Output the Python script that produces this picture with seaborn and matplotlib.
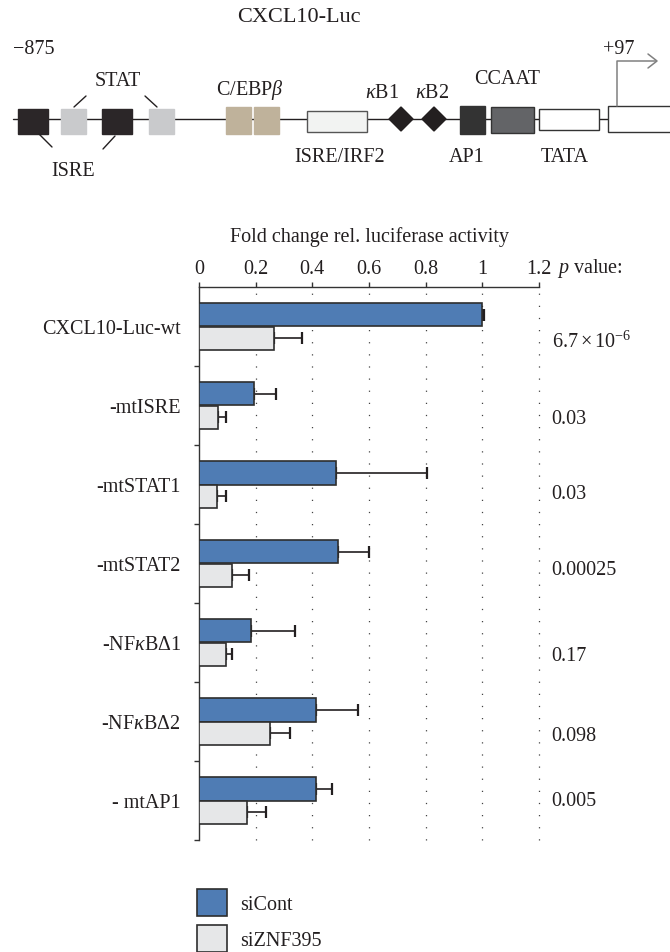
import numpy as np
import pandas as pd
import matplotlib
matplotlib.use("Agg")
import matplotlib.pyplot as plt
from matplotlib.patches import Rectangle, Polygon
import seaborn as sns

# ---- data -------------------------------------------------------------
constructs = ["CXCL10-Luc-wt", "-mtISRE", "-mtSTAT1", "-mtSTAT2",
              "-NF$\\mathit{\\kappa}$B\u03941", "-NF$\\mathit{\\kappa}$B\u03942", "- mtAP1"]
conditions = ["siCont", "siZNF395"]
sicont_mean = [1.00, 0.195, 0.484, 0.492, 0.182, 0.414, 0.414]
sicont_err = [0.005, 0.075, 0.32, 0.107, 0.157, 0.147, 0.055]
siznf_mean = [0.265, 0.066, 0.062, 0.118, 0.094, 0.252, 0.169]
siznf_err = [0.10, 0.03, 0.035, 0.058, 0.021, 0.068, 0.069]
p_values = ["$6.7\\times10^{-6}$", "0.03", "0.03", "0.00025", "0.17", "0.098", "0.005"]
x_ticks = [0, 0.2, 0.4, 0.6, 0.8, 1.0, 1.2]
x_tick_labels = ["0", "0.2", "0.4", "0.6", "0.8", "1", "1.2"]

# ---- style ------------------------------------------------------------
sns.set_style("white")
plt.rcParams["font.family"] = ["Liberation Serif", "DejaVu Serif"]
plt.rcParams["mathtext.fontset"] = "custom"
plt.rcParams["mathtext.rm"] = "Liberation Serif"
plt.rcParams["mathtext.it"] = "Liberation Serif:italic"
plt.rcParams["mathtext.bf"] = "Liberation Serif:bold"
TXT = "#231f20"
FS = 14.5
plt.rcParams["text.color"] = TXT

W, H = 670, 953
fig = plt.figure(figsize=(W / 100, H / 100), dpi=100)

# ---- promoter schematic -----------------------------------------------
dax = fig.add_axes([0, 1 - 200 / H, 1, 200 / H])
dax.set_xlim(0, W)
dax.set_ylim(200, 0)
dax.axis("off")

dax.plot([13, W], [120, 120], color=TXT, lw=1.0, zorder=1)

boxes = [
    # x0, x1, y0, y1, face, edge
    (18, 48, 110, 135, "#2b2628", "#2b2628"),
    (102, 132, 110, 135, "#2b2628", "#2b2628"),
    (61, 86, 110, 135, "#c9cacc", "#c9cacc"),
    (149, 174, 110, 135, "#c9cacc", "#c9cacc"),
    (226, 251, 108, 135, "#bfb29b", "#bfb29b"),
    (254, 279, 108, 135, "#bfb29b", "#bfb29b"),
    (307, 367, 112, 133, "#f2f3f2", "#555555"),
    (460, 485, 107, 135, "#333333", "#333333"),
    (491, 534, 108, 134, "#636467", "#333333"),
    (539, 599, 110, 131, "white", "#333333"),
    (608, 675, 107, 133, "white", "#333333"),
]
for x0, x1, y0, y1, fc, ec in boxes:
    dax.add_patch(Rectangle((x0, y0), x1 - x0, y1 - y0, facecolor=fc,
                            edgecolor=ec, lw=1.0, zorder=2))

for cx in (401, 434):
    dax.add_patch(Polygon([(cx - 12, 120), (cx, 108), (cx + 12, 120), (cx, 132)],
                          closed=True, facecolor="#231f20", edgecolor="#231f20", zorder=2))

for (xa, ya), (xb, yb) in [((86, 97), (74, 108)), ((145, 97), (157, 108)),
                           ((39, 135), (52, 148)), ((115, 137), (103, 150))]:
    dax.plot([xa, xb], [ya, yb], color=TXT, lw=1.0)

# transcription start arrow
dax.plot([617, 617, 656], [107, 62, 62], color="#808080", lw=1.1)
dax.plot([648, 657, 648], [55, 62, 69], color="#808080", lw=1.1)

dax.text(299, 17, "CXCL10-Luc", ha="center", va="center", fontsize=16, color=TXT)
labels = [
    ("\u2212875", 34, 50), ("+97", 619, 49),
    ("STAT", 118, 82), ("ISRE", 73, 171), ("C/EBP$\\mathit{\\beta}$", 250, 90),
    ("ISRE/IRF2", 340, 157), ("$\\mathit{\\kappa}$B1", 382, 94),
    ("$\\mathit{\\kappa}$B2", 432, 94), ("CCAAT", 507, 80),
    ("AP1", 467, 158), ("TATA", 565, 157),
]
for s, x, y in labels:
    dax.text(x, y, s, ha="center", va="center", fontsize=FS, color=TXT)

# ---- bar chart --------------------------------------------------------
df = pd.DataFrame({
    "construct": constructs * 2,
    "condition": [conditions[0]] * len(constructs) + [conditions[1]] * len(constructs),
    "value": sicont_mean + siznf_mean,
})
errs = {conditions[0]: sicont_err, conditions[1]: siznf_err}

ax = fig.add_axes([199 / W, 1 - 841 / H, 340 / W, 553 / H])
sns.barplot(data=df, x="value", y="construct", hue="condition", orient="h",
            order=constructs, hue_order=conditions,
            palette={"siCont": "#4f7cb4", "siZNF395": "#e6e7e8"},
            saturation=1, width=0.6, errorbar=None,
            edgecolor="#2e2e2e", linewidth=1.2, ax=ax, zorder=3)

for cond, cont in zip(conditions, ax.containers):
    ys = [b.get_y() + b.get_height() / 2 for b in cont]
    xs = [b.get_width() for b in cont]
    e = errs[cond]
    ax.errorbar(xs, ys, xerr=[np.zeros(len(e)), e], fmt="none",
                ecolor=TXT, elinewidth=1.2, capsize=4, capthick=1.6, zorder=2)

handles, leg_labels = ax.get_legend_handles_labels()
ax.get_legend().remove()

ax.set_xlim(0, 1.2)
ax.set_ylim(len(constructs) - 0.5, -0.5)
ax.xaxis.tick_top()
ax.xaxis.set_label_position("top")
ax.set_xticks(x_ticks)
ax.set_xticklabels(x_tick_labels)
ax.set_xlabel("Fold change rel. luciferase activity", fontsize=FS, labelpad=13, color=TXT)
ax.set_ylabel("")
ax.set_yticks(range(len(constructs)))
ax.set_yticklabels(constructs)
ax.set_yticks(np.arange(len(constructs)) + 0.5, minor=True)

for sp in ("right", "bottom"):
    ax.spines[sp].set_visible(False)
for sp in ("top", "left"):
    ax.spines[sp].set_color("#333333")
    ax.spines[sp].set_linewidth(1.0)

ax.tick_params(axis="x", which="major", direction="out", length=3.6, width=1.0,
               color="#333333", labelsize=FS, labelcolor=TXT, pad=3, top=True, bottom=False)
ax.tick_params(axis="y", which="major", length=0, labelsize=FS, labelcolor=TXT, pad=13)
ax.tick_params(axis="y", which="minor", direction="out", length=3.6, width=1.0,
               color="#333333", left=True)

for xv in x_ticks[1:]:
    ax.axvline(xv, color="#444444", lw=0.9, linestyle=(0, (1, 8.7)), zorder=1, clip_on=False)

pv_offsets = [0.18, 0.17, 0.12, 0.08, 0.17, 0.18, 0.0]
for i, (pv, off) in enumerate(zip(p_values, pv_offsets)):
    ax.text(1.245, i + off, pv, ha="left", va="center", fontsize=FS, color=TXT, clip_on=False)

ax.text(1.265, 1 + 19 / 553, "$p$ value:", transform=ax.get_xaxis_transform(),
        ha="left", va="center", fontsize=FS, color=TXT, clip_on=False)

fig.legend(handles, leg_labels, loc="upper left", bbox_to_anchor=(197 / W, 1 - 890 / H),
           frameon=False, fontsize=FS, borderpad=0, borderaxespad=0,
           handlelength=1.5, handleheight=1.7, handletextpad=0.65, labelspacing=0.45)

fig.savefig("out.png", dpi=100)
